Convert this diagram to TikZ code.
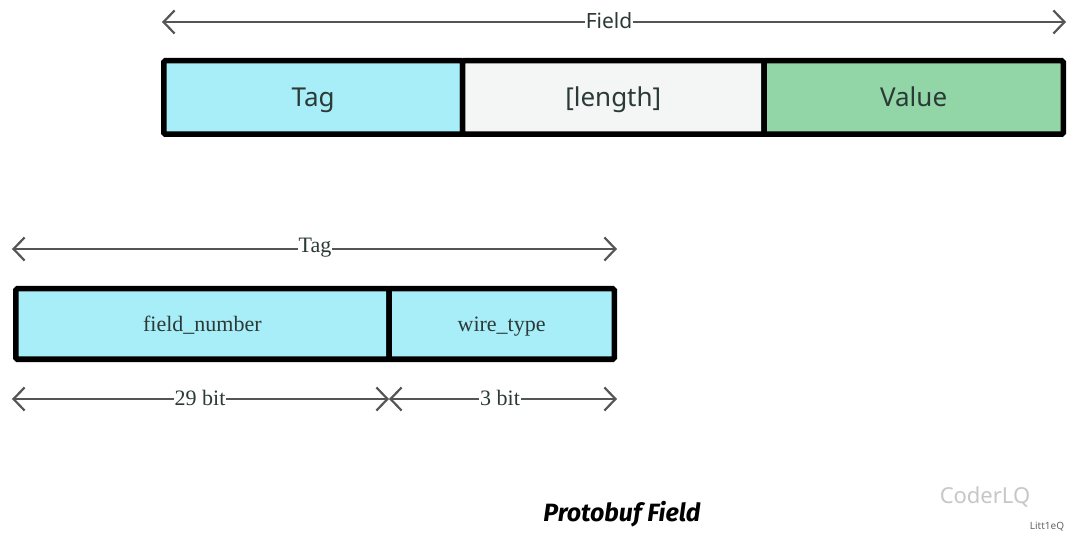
\documentclass[tikz,border=0pt]{standalone}
\usepackage{fontspec}
\setmainfont{Liberation Serif}
\newfontfamily\yafont{Noto Sans}
\newfontfamily\handfont{Fira Sans}
\usetikzlibrary{arrows.meta}
\definecolor{tagc}{HTML}{A8EEF8}
\definecolor{lenc}{HTML}{F3F6F5}
\definecolor{valc}{HTML}{92D6A8}
\definecolor{arr}{HTML}{555555}
\definecolor{txt}{HTML}{2B3A36}
\tikzset{
  seg/.style={draw=black, line width=5.5pt, rounded corners=1.5pt, inner sep=0pt, outer sep=0pt, anchor=north west},
  dim/.style={draw=arr, line width=2.2pt, {Straight Barb[length=11pt,width=23pt,line width=2.2pt]}-{Straight Barb[length=11pt,width=23pt,line width=2.2pt]}},
  dimlab/.style={fill=white, inner sep=1pt},
  bigtxt/.style={font=\yafont\fontsize{26}{30}\selectfont, text=txt, text height=19pt, text depth=0pt},
  sertxt/.style={font=\fontsize{22}{26}\selectfont, text=txt},
  boxser/.style={sertxt, text height=14pt, text depth=0pt},
}
\begin{document}
\begin{tikzpicture}[x=1pt,y=-1pt]
\useasboundingbox[fill=white] (0,0) rectangle (1080,548);
% top field
\node[seg, fill=tagc, minimum width=298.75pt, minimum height=73.5pt, bigtxt] (tag) at (163.75,60.75) {Tag};
\node[seg, fill=lenc, minimum width=301.5pt, minimum height=73.5pt, bigtxt] (len) at (462.5,60.75) {[length]};
\node[seg, fill=valc, minimum width=299.25pt, minimum height=73.5pt, bigtxt] (val) at (764,60.75) {Value};
\coordinate (fl) at (162,22);
\coordinate (fr) at (1066,22);
\draw[dim] (fl) -- (fr);
\node[dimlab, font=\yafont\fontsize{21}{25}\selectfont, text=txt] (flab) at (609,21) {Field};
% tag detail
\node[seg, fill=tagc, minimum width=373.25pt, minimum height=70.5pt, boxser] (fn) at (15.75,288.75) {field\_number};
\node[seg, fill=tagc, minimum width=225.25pt, minimum height=70.5pt, boxser] (wt) at (389,288.75) {wire\_type};
\coordinate (tl) at (12,249);
\coordinate (tr) at (617,249);
\draw[dim] (tl) -- (tr);
\node[dimlab, sertxt] (tlab) at (315,248) {Tag};
\coordinate (bl) at (12,399);
\coordinate (bm) at (389,399);
\coordinate (br) at (617,399);
\draw[dim] (bl) -- (bm);
\draw[dim] (bm) -- (br);
\node[dimlab, sertxt] (b1) at (200,398) {29 bit};
\node[dimlab, sertxt] (b2) at (500,398) {3 bit};
% caption
\node[font=\handfont\bfseries\itshape\fontsize{25}{30}\selectfont] (cap) at (622,514) {Protobuf Field};
% watermark
\node[font=\yafont\fontsize{22}{26}\selectfont, text=black!22] (wm) at (985,497) {CoderLQ};
\node[font=\yafont\fontsize{10}{12}\selectfont, text=black!60] (wm2) at (1047,527) {Litt1eQ};
\end{tikzpicture}
\end{document}
